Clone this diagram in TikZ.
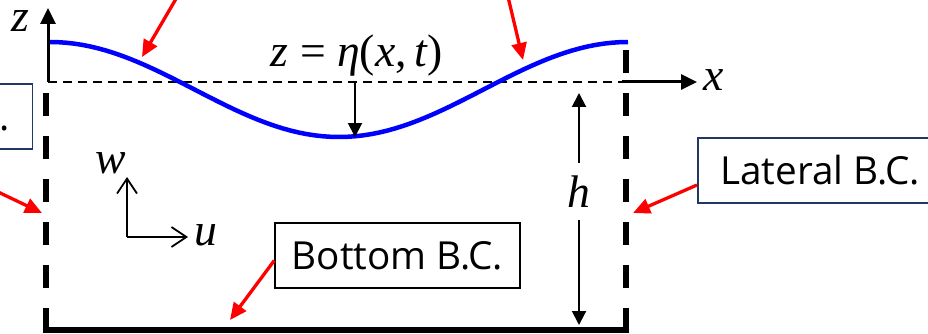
\documentclass[tikz,border=0pt]{standalone}
\usepackage{fontspec}
\setsansfont{Open Sans}
\newfontfamily\tms{Liberation Serif}
\usetikzlibrary{arrows.meta}
\definecolor{bcnavy}{RGB}{32,56,100}

\begin{document}
\begin{tikzpicture}[
  x=0.02cm,y=-0.02cm,
  font=\tms\fontsize{26}{30}\selectfont,
  wall/.style={line width=0.12cm,dash pattern=on 0.46cm off 0.4cm},
  axisline/.style={-{Triangle[length=0.32cm,width=0.3cm]},line width=0.06cm},
  level/.style={line width=0.04cm,dash pattern=on 0.18cm off 0.12cm},
  wave/.style={blue,line width=0.09cm},
  dim/.style={-{Triangle[length=0.28cm,width=0.28cm]},line width=0.04cm},
  vel/.style={-{Straight Barb[length=0.3cm,width=0.4cm]},line width=0.035cm},
  bcbox/.style={draw=bcnavy,line width=0.03cm,font=\sffamily\fontsize{22}{25}\selectfont,minimum width=4.9cm,minimum height=1.3cm,inner xsep=0.42cm},
  callout/.style={-{Triangle[length=0.34cm,width=0.3cm]},red,line width=0.066cm}
]
  \useasboundingbox (0,0) rectangle (928,334);
  \clip (0,0) rectangle (928,334);

  % axes and still water level
  \coordinate (o) at (48,82);
  \coordinate (zt) at (48,8);
  \coordinate (xw) at (622,82);
  \coordinate (xt) at (697,82);
  \draw[level] (o) -- (xw);
  \draw[axisline] (o) -- (zt);
  \draw[axisline] (xw) -- (xt);
  \node[anchor=base,inner sep=0pt,text height=0.45em,text depth=0pt] (zl) at (20,32) {\textit{z}};
  \node (xl) at (714,80) {\textit{x}};

  % tank
  \draw[wall] (46,93) -- (46,331);
  \draw[wall] (626,50) -- (626,331);
  \draw[line width=0.12cm] (43,330) -- (629,330);

  % free surface
  \draw[wave] plot[domain=0:360,samples=73] ({50+1.60556*\x},{89.5-47.5*cos(\x)});
  \node[anchor=base] (eta) at (357,67) {\textit{z} = \textit{η}(\textit{x},\,\textit{t})};
  \coordinate (etatop) at (355,82);
  \coordinate (etabot) at (355,137);
  \draw[dim] (etatop) -- (etabot);

  % depth
  \node[minimum height=1.14cm,inner sep=0pt] (hl) at (579,191.5) {\textit{h}};
  \coordinate (ht) at (579,93);
  \coordinate (hb) at (579,325);
  \draw[dim] (hl) -- (ht);
  \draw[dim] (hl) -- (hb);

  % velocity components
  \coordinate (c) at (127,237);
  \coordinate (wt) at (127,177);
  \coordinate (ut) at (188,237);
  \draw[vel] (c) -- (wt);
  \draw[vel] (c) -- (ut);
  \node (wl) at (111,163) {\textit{w}};
  \node (ul) at (206,235) {\textit{u}};

  % boundary conditions
  \node[bcbox,anchor=east] (lbc) at (33,116.5) {Lateral B.C.};
  \node[bcbox,anchor=west] (rbc) at (697,170.5) {Lateral B.C.};
  \node[bcbox,draw=black,inner xsep=0.2cm] (bbc) at (397.5,255.5) {Bottom B.C.};

  \coordinate (lw) at (42,213);
  \coordinate (rw) at (633,213);
  \coordinate (bw) at (230,320);
  \coordinate (fsl) at (187,-20);
  \coordinate (fsr) at (504,-20);
  \coordinate (sl) at (142,57);
  \coordinate (sr) at (523,60);
  \draw[callout] (lbc.south) -- (lw);
  \draw[callout] ([yshift=-0.29cm]rbc.west) -- (rw);
  \draw[callout] ([yshift=-0.1cm]bbc.west) -- (bw);
  \draw[callout] (fsl) -- (sl);
  \draw[callout] (fsr) -- (sr);
\end{tikzpicture}
\end{document}
